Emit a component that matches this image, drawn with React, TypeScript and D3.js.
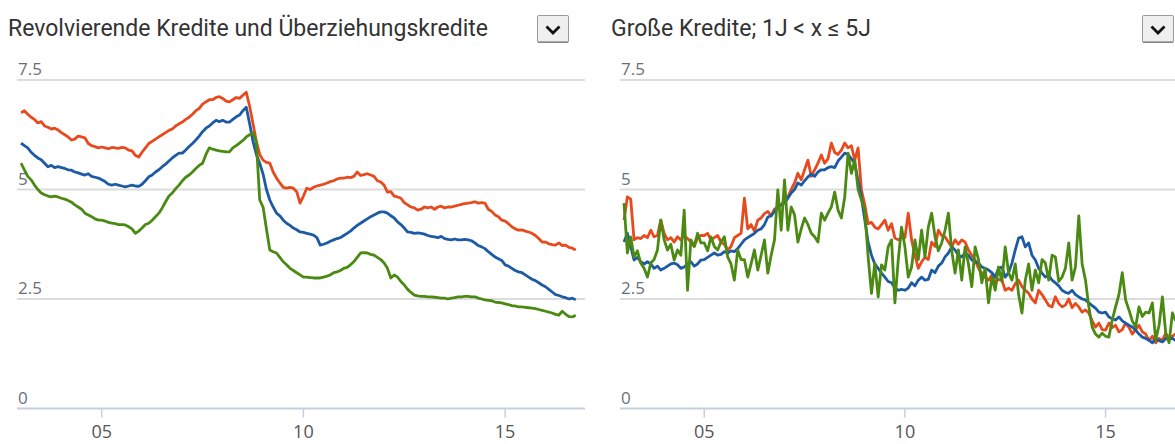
import React from "react";
import * as d3 from "d3";

// ---------- DATA ----------
const START_YEAR = 2003;
const N_MONTHS = 166; // Jan 2003 .. Oct 2016
const MONTHS: number[] = d3.range(N_MONTHS).map((i) => START_YEAR + i / 12);

const X_TICKS = [2005, 2010, 2015];
const X_TICK_LABELS = ["05", "10", "15"];
const Y_TICKS = [0, 2.5, 5, 7.5];
const Y_TICK_LABELS = ["0", "2.5", "5", "7.5"];

const TITLE_LEFT = "Revolvierende Kredite und Überziehungskredite";
const TITLE_RIGHT = "Große Kredite; 1J < x ≤ 5J";

// Left panel: revolving loans and overdrafts
const LEFT_RED = [
  6.75, 6.8, 6.72, 6.65, 6.6, 6.52, 6.55, 6.45, 6.42, 6.38, 6.4, 6.36,
  6.3, 6.25, 6.2, 6.13, 6.15, 6.22, 6.2, 6.18, 6.05, 6.0, 5.98, 5.95,
  5.97, 5.95, 5.93, 5.96, 5.95, 5.94, 5.96, 5.95, 5.9, 5.88, 5.78, 5.74,
  5.85, 5.95, 6.05, 6.1, 6.15, 6.2, 6.25, 6.3, 6.35, 6.38, 6.45, 6.5,
  6.54, 6.6, 6.65, 6.72, 6.8, 6.85, 6.95, 7.0, 7.05, 7.05, 7.1, 7.12,
  7.08, 7.02, 7.0, 7.05, 7.1, 7.08, 7.15, 7.22, 6.9, 6.5, 6.1, 5.8,
  5.67, 5.62, 5.6, 5.4, 5.26, 5.15, 5.05, 5.03, 5.05, 5.03, 4.95, 4.69,
  4.85, 5.03, 5.0, 5.05, 5.08, 5.1, 5.12, 5.15, 5.18, 5.2, 5.24, 5.26,
  5.26, 5.28, 5.27, 5.3, 5.4, 5.32, 5.34, 5.36, 5.33, 5.3, 5.2, 5.17,
  5.1, 4.94, 4.95, 4.85, 4.83, 4.8, 4.7, 4.65, 4.6, 4.58, 4.53, 4.55,
  4.6, 4.58, 4.6, 4.55, 4.6, 4.62, 4.58, 4.6, 4.6, 4.62, 4.64, 4.66,
  4.68, 4.69, 4.7, 4.72, 4.69, 4.7, 4.69, 4.55, 4.5, 4.42, 4.38, 4.3,
  4.28, 4.22, 4.15, 4.1, 4.07, 4.08, 4.05, 4.03, 4.0, 3.95, 3.88, 3.8,
  3.8, 3.76, 3.74, 3.73, 3.78, 3.72, 3.73, 3.68, 3.66, 3.62,
];
const LEFT_BLUE = [
  6.06, 6.0, 5.95, 5.85, 5.78, 5.72, 5.68, 5.6, 5.52, 5.55, 5.5, 5.52,
  5.5, 5.48, 5.45, 5.44, 5.4, 5.38, 5.35, 5.33, 5.36, 5.3, 5.28, 5.26,
  5.22, 5.18, 5.12, 5.1, 5.12, 5.1, 5.08, 5.06, 5.08, 5.1, 5.08, 5.07,
  5.12, 5.2, 5.29, 5.33, 5.4, 5.45, 5.52, 5.58, 5.65, 5.72, 5.78, 5.83,
  5.83, 5.9, 5.98, 6.05, 6.13, 6.22, 6.32, 6.4, 6.45, 6.52, 6.58, 6.55,
  6.58, 6.54, 6.54, 6.6, 6.66, 6.7, 6.8, 6.88, 6.5, 6.1, 5.8, 5.6,
  5.35, 5.0, 4.76, 4.6, 4.46, 4.4, 4.3, 4.23, 4.18, 4.12, 4.08, 4.03,
  4.02, 4.0, 3.98, 3.96, 3.9, 3.73, 3.75, 3.78, 3.82, 3.85, 3.88, 3.9,
  3.95, 4.0, 4.05, 4.12, 4.18, 4.23, 4.28, 4.33, 4.38, 4.42, 4.46, 4.49,
  4.49, 4.46, 4.4, 4.35, 4.26, 4.2, 4.12, 4.03, 4.02, 4.0, 4.01, 4.0,
  3.98, 3.95, 3.93, 3.92, 3.9, 3.93, 3.88, 3.86, 3.85, 3.87, 3.85, 3.85,
  3.86, 3.85, 3.83, 3.78, 3.72, 3.69, 3.65, 3.58, 3.52, 3.46, 3.42, 3.38,
  3.28, 3.25, 3.2, 3.15, 3.12, 3.1, 3.05, 3.0, 2.95, 2.92, 2.87, 2.82,
  2.78, 2.72, 2.66, 2.6, 2.58, 2.55, 2.53, 2.5, 2.52, 2.48,
];
const LEFT_GREEN = [
  5.6, 5.45, 5.3, 5.22, 5.1, 5.0, 4.92, 4.88, 4.85, 4.83, 4.85, 4.83,
  4.8, 4.78, 4.75, 4.71, 4.65, 4.6, 4.55, 4.46, 4.42, 4.38, 4.33, 4.3,
  4.3, 4.28, 4.25, 4.23, 4.22, 4.2, 4.2, 4.19, 4.15, 4.1, 4.0, 4.05,
  4.12, 4.2, 4.23, 4.3, 4.38, 4.46, 4.58, 4.72, 4.85, 4.92, 5.02, 5.1,
  5.2, 5.28, 5.33, 5.4, 5.48, 5.55, 5.6, 5.8, 5.95, 5.92, 5.9, 5.88,
  5.87, 5.86, 5.86, 5.95, 6.0, 6.06, 6.12, 6.2, 6.25, 6.29, 6.08, 4.76,
  4.6, 4.1, 3.62, 3.58, 3.55, 3.45, 3.35, 3.28, 3.2, 3.15, 3.1, 3.05,
  3.0, 3.0, 2.99, 2.98, 2.98, 2.98, 3.0, 3.02, 3.05, 3.1, 3.12, 3.15,
  3.2, 3.22, 3.28, 3.35, 3.45, 3.55, 3.56, 3.55, 3.52, 3.5, 3.45, 3.4,
  3.32, 3.2, 2.98, 3.05, 3.0, 2.9, 2.82, 2.72, 2.65, 2.59, 2.57, 2.56,
  2.56, 2.55, 2.55, 2.54, 2.53, 2.52, 2.52, 2.5, 2.52, 2.53, 2.55, 2.55,
  2.56, 2.56, 2.55, 2.55, 2.52, 2.5, 2.48, 2.47, 2.46, 2.43, 2.42, 2.41,
  2.39, 2.37, 2.35, 2.34, 2.32, 2.32, 2.31, 2.3, 2.29, 2.28, 2.26, 2.24,
  2.22, 2.2, 2.18, 2.15, 2.13, 2.22, 2.15, 2.1, 2.09, 2.13,
];

// Right panel: large loans, 1 to 5 years
const RIGHT_RED = [
  4.3, 4.83, 4.78, 3.85, 3.9, 3.88, 3.95, 3.9, 4.07, 3.92, 3.95, 4.3,
  4.0, 3.85, 3.9, 3.8, 3.92, 3.85, 3.95, 3.88, 3.8, 3.7, 3.9, 3.95,
  3.95, 4.0, 3.85, 3.9, 3.95, 3.8, 3.75, 3.62, 3.7, 3.9, 3.95, 4.0,
  4.8, 4.1, 4.2, 4.05, 4.3, 4.35, 4.45, 4.5, 4.4, 4.55, 4.6, 4.65,
  4.75, 4.83, 5.0, 5.15, 5.37, 5.22, 5.45, 5.67, 5.3, 5.45, 5.6, 5.79,
  5.6, 5.7, 6.06, 5.85, 5.8, 5.9, 6.06, 5.95, 6.0, 5.67, 5.95, 4.99,
  4.65, 4.22, 4.25, 4.14, 4.1, 4.2, 4.3, 4.07, 4.22, 3.89, 3.85, 3.9,
  3.9, 4.46, 3.85, 3.5, 3.2, 3.35, 3.45, 3.4, 3.8, 3.7, 4.07, 3.95,
  3.92, 3.8, 3.69, 3.85, 3.75, 3.85, 3.8, 3.62, 3.5, 3.39, 3.2, 3.09,
  3.0, 2.93, 3.05, 2.87, 2.95, 2.93, 2.7, 2.75, 2.7, 2.85, 2.93, 2.78,
  2.7, 2.63, 2.5, 2.41, 2.7, 2.6, 2.48, 2.35, 2.32, 2.55, 2.4, 2.32,
  2.36, 2.5, 2.3, 2.4, 2.32, 2.2, 2.25, 2.18, 2.0, 1.86, 1.95, 1.8,
  1.79, 1.95, 1.85, 1.9, 1.75, 1.8, 1.95, 1.85, 1.7, 1.8, 1.9, 1.75,
  1.7, 1.55, 1.65, 1.5, 1.6, 1.55, 1.72, 1.6, 1.65, 1.7,
];
const RIGHT_BLUE = [
  3.8, 4.0, 3.7, 3.39, 3.45, 3.35, 3.3, 3.35, 3.3, 3.2, 3.25, 3.16,
  3.2, 3.25, 3.3, 3.32, 3.28, 3.2, 3.23, 3.3, 3.35, 3.25, 3.3, 3.39,
  3.4, 3.45, 3.5, 3.55, 3.5, 3.52, 3.58, 3.55, 3.6, 3.58, 3.65, 3.75,
  3.85, 3.9, 3.95, 4.0, 4.07, 4.1, 4.2, 4.37, 4.4, 4.5, 4.6, 4.65,
  4.69, 4.8, 4.92, 5.0, 5.15, 5.1, 5.2, 5.29, 5.35, 5.3, 5.4, 5.45,
  5.45, 5.5, 5.52, 5.5, 5.65, 5.74, 5.83, 5.8, 5.7, 5.6, 5.2, 4.83,
  4.3, 3.8, 3.5, 3.3, 3.2, 3.09, 3.0, 2.9, 2.87, 2.75, 2.7, 2.72,
  2.7, 2.75, 2.87, 2.8, 2.93, 3.0, 2.93, 2.95, 3.16, 3.1, 3.25, 3.32,
  3.46, 3.55, 3.69, 3.62, 3.5, 3.46, 3.55, 3.5, 3.39, 3.35, 3.32, 3.23,
  3.2, 3.16, 3.1, 3.0, 3.2, 3.23, 3.0, 3.1, 3.32, 3.62, 3.89, 3.92,
  3.69, 3.78, 3.5, 3.39, 3.2, 3.09, 3.0, 3.05, 2.93, 2.87, 2.8, 2.7,
  2.65, 2.63, 2.7, 2.6, 2.55, 2.5, 2.48, 2.41, 2.35, 2.29, 2.2, 2.18,
  2.2, 2.09, 2.05, 2.02, 2.09, 2.0, 1.95, 1.9, 1.86, 1.79, 1.7, 1.63,
  1.6, 1.56, 1.5, 1.6, 1.55, 1.52, 1.6, 1.58, 1.6, 1.55,
];
const RIGHT_GREEN = [
  4.69, 3.55, 3.92, 3.46, 3.6, 3.32, 3.2, 3.0, 3.32, 3.4, 3.62, 4.3,
  3.85, 3.62, 3.75, 3.39, 3.62, 3.5, 4.53, 2.7, 3.85, 3.7, 4.0, 3.78,
  3.78, 3.6, 3.92, 3.7, 3.62, 3.8, 3.92, 3.46, 3.3, 2.93, 3.62, 3.4,
  3.4, 3.0, 3.3, 3.62, 3.16, 3.5, 3.85, 3.09, 3.5, 3.85, 4.99, 4.07,
  5.22, 4.07, 4.6, 4.42, 3.8, 4.1, 4.35, 4.2, 4.0, 3.92, 3.8, 4.46,
  4.3, 4.46, 4.6, 4.94, 4.53, 4.35, 4.83, 5.83, 5.37, 5.67, 5.0, 4.76,
  4.53, 3.46, 2.63, 3.32, 2.55, 3.28, 3.16, 3.69, 3.85, 2.41, 3.39, 4.14,
  3.69, 3.0, 3.23, 3.85, 3.4, 4.07, 3.46, 4.14, 4.46, 3.92, 3.6, 3.78,
  4.07, 4.46, 3.6, 3.09, 3.62, 2.93, 3.69, 3.3, 2.78, 3.69, 3.4, 2.87,
  3.2, 2.41, 3.0, 2.7, 3.23, 2.9, 3.69, 3.1, 2.93, 3.3, 2.6, 2.18,
  2.93, 3.3, 2.7, 3.16, 2.87, 3.4, 3.32, 2.93, 3.5, 3.46, 2.9, 3.0,
  3.2, 3.78, 2.93, 3.23, 4.4, 3.3, 2.93, 2.32, 1.86, 1.7, 1.63, 1.72,
  1.65, 1.63, 2.02, 2.32, 2.6, 3.1, 2.48, 2.25, 2.0, 1.86, 2.32, 2.1,
  2.2, 2.18, 2.41, 1.56, 1.9, 2.55, 1.72, 1.5, 2.18, 2.0,
];

const SERIES_COLORS = ["#e8491d", "#1c5aa6", "#4b8a12"];

// ---------- LAYOUT ----------
const W = 1175;
const H = 444;
const X_DOMAIN: [number, number] = [2002.9, 2016.98];
const Y_DOMAIN: [number, number] = [0, 7.5];
const Y_RANGE: [number, number] = [408.5, 80];

type PanelProps = {
  x0: number;
  x1: number;
  title: string;
  titleX: number;
  btnX: number;
  series: number[][];
  clipId: string;
  clipRight: number;
};

function Panel({ x0, x1, title, titleX, btnX, series, clipId, clipRight }: PanelProps) {
  const xs = d3.scaleLinear().domain(X_DOMAIN).range([x0, x1]);
  const ys = d3.scaleLinear().domain(Y_DOMAIN).range(Y_RANGE);
  const line = d3
    .line<number>()
    .x((_, i) => xs(MONTHS[i]))
    .y((d) => ys(d));
  const gridRight = Math.min(x1, W);
  return (
    <g>
      <text x={titleX} y={36} fontFamily="Roboto, sans-serif" fontSize={23} fill="#333">
        {title}
      </text>
      <g transform={`translate(${btnX},15)`}>
        <rect x={0.5} y={0.5} width={31} height={27} fill="#efefef" stroke="#9a9a9a" strokeWidth={1} rx={1} />
        <line x1={1} y1={27} x2={31} y2={27} stroke="#7a7a7a" strokeWidth={1.2} />
        <path d="M 9.5 11.5 L 16 18 L 22.5 11.5" fill="none" stroke="#111" strokeWidth={2.8} />
      </g>
      {Y_TICKS.filter((t) => t > 0).map((t) => (
        <line key={t} x1={x0} x2={gridRight} y1={ys(t)} y2={ys(t)} stroke="#dcdcdc" strokeWidth={2} />
      ))}
      {Y_TICKS.map((t, i) => (
        <text
          key={"l" + t}
          x={x0 + 1}
          y={ys(t) - 5}
          fontFamily="'Open Sans', sans-serif"
          fontSize={17}
          fill="#6a6f78"
        >
          {Y_TICK_LABELS[i]}
        </text>
      ))}
      <line x1={x0} x2={gridRight} y1={ys(0)} y2={ys(0)} stroke="#c5d0dc" strokeWidth={2} />
      {X_TICKS.map((t, i) => (
        <g key={"x" + t}>
          <line x1={xs(t)} x2={xs(t)} y1={ys(0)} y2={ys(0) + 9} stroke="#c5d0dc" strokeWidth={1.5} />
          <text
            x={xs(t)}
            y={438}
            textAnchor="middle"
            fontFamily="'Open Sans', sans-serif"
            fontSize={18}
            fill="#555"
          >
            {X_TICK_LABELS[i]}
          </text>
        </g>
      ))}
      <defs>
        <clipPath id={clipId}>
          <rect x={x0} y={60} width={clipRight - x0} height={360} />
        </clipPath>
      </defs>
      <g clipPath={`url(#${clipId})`}>
        {series.map((s, k) => (
          <path
            key={k}
            d={line(s) || ""}
            fill="none"
            stroke={SERIES_COLORS[k]}
            strokeWidth={2.8}
            strokeLinejoin="round"
          />
        ))}
      </g>
    </g>
  );
}

export default function App() {
  return (
    <svg
      width={W}
      height={H}
      viewBox={`0 0 ${W} ${H}`}
      style={{ position: "absolute", left: 0, top: 0, background: "#fff" }}
    >
      <Panel
        x0={17}
        x1={585}
        title={TITLE_LEFT}
        titleX={8}
        btnX={537}
        series={[LEFT_RED, LEFT_BLUE, LEFT_GREEN]}
        clipId="clipL"
        clipRight={590}
      />
      <Panel
        x0={620}
        x1={1185}
        title={TITLE_RIGHT}
        titleX={611}
        btnX={1142}
        series={[RIGHT_RED, RIGHT_BLUE, RIGHT_GREEN]}
        clipId="clipR"
        clipRight={1175}
      />
    </svg>
  );
}
